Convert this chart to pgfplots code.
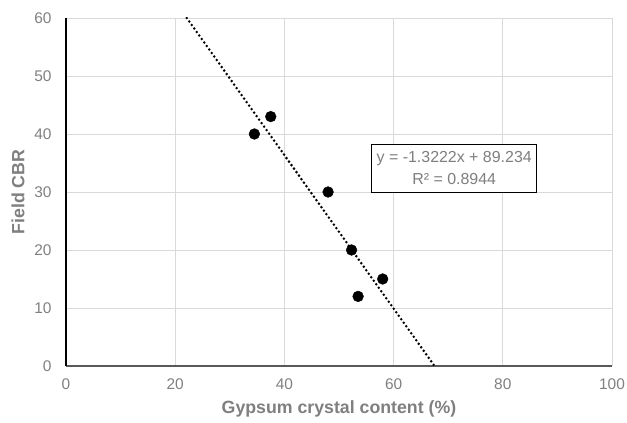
\documentclass[border=0pt]{standalone}
\usepackage{pgfplots}
\pgfplotsset{compat=1.18}
\usepackage{fontspec}
\setmainfont{Liberation Sans}
\definecolor{tickgray}{HTML}{808080}
\definecolor{labgray}{HTML}{7F7F7F}
\definecolor{gridgray}{HTML}{D9D9D9}
\begin{document}
\begin{tikzpicture}
\begin{axis}[
  scale only axis,
  width=546bp, height=348bp,
  xmin=0, xmax=100, ymin=0, ymax=60,
  xtick={0,20,...,100}, ytick={0,10,...,60},
  axis lines*=left,
  x axis line style={draw=black!65, line width=1.3bp, -},
  y axis line style={draw=black, line width=1.3bp, -},
  major tick length=0pt,
  grid=major,
  major grid style={gridgray, line width=0.9bp},
  tick label style={font=\fontsize{15.5}{17}\selectfont, text=tickgray},
  /pgf/number format/assume math mode=true,
  xticklabel style={yshift=-9bp},
  yticklabel style={xshift=-11bp},
  xlabel={\bfseries Gypsum crystal content (\%)},
  ylabel={\bfseries Field CBR},
  label style={font=\fontsize{17.8}{19}\selectfont, text=labgray},
  xlabel style={yshift=-4bp},
  ylabel style={yshift=3bp},
  clip=true,
]
\addplot[only marks, mark=*, mark size=5.4bp, black] coordinates {
  (34.5,40) (37.5,43) (48,30) (52.3,20) (53.5,12) (58,15)
};
\addplot[black, line width=2.8bp, dash pattern=on 0bp off 4.3bp, line cap=round] coordinates {
  (22.12,60) (67.49,0)
};
\node[draw=black, line width=1bp, fill=white, align=center, text=labgray,
  font=\fontsize{16}{22}\selectfont, inner xsep=4.8bp, inner ysep=7.5bp] at (axis cs:71.1,34.1)
  {y = -1.3222x + 89.234\\R² = 0.8944};
\end{axis}
\pgfresetboundingbox
\path (-66bp,-57bp) rectangle (561bp,366bp);
\end{tikzpicture}
\end{document}
